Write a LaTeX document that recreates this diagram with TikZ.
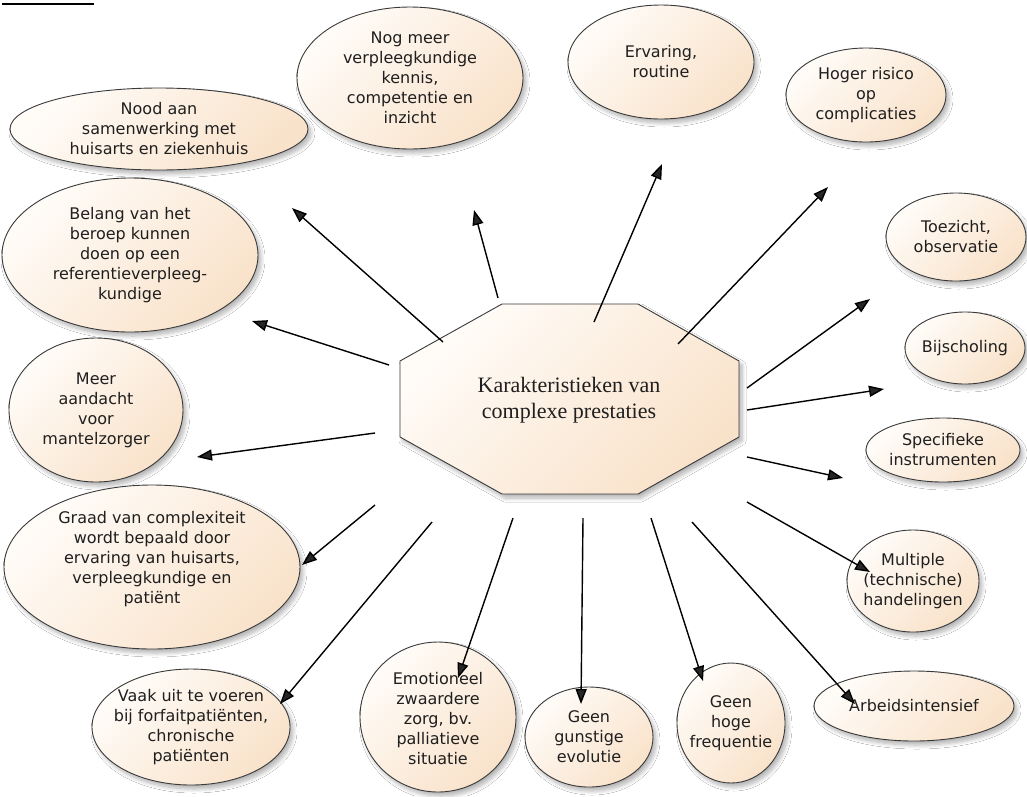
\documentclass[tikz,border=0pt]{standalone}
\usepackage{fontspec}
\setmainfont{DejaVu Sans}
\newfontfamily\centrefont{Liberation Serif}
\usetikzlibrary{arrows.meta,shapes.geometric,shadows.blur}
\definecolor{bubbleLight}{HTML}{FFFCF8}
\definecolor{bubbleDark}{HTML}{F9E2CA}
\definecolor{rim}{HTML}{3A3A3A}
\begin{document}
\begin{tikzpicture}[x=1pt,y=-1pt,
  softshadow/.style={blur shadow={shadow xshift=3pt, shadow yshift=-4pt, shadow blur radius=4pt, shadow blur steps=8, shadow opacity=30}},
  bubble/.style={ellipse, draw=rim, line width=0.9pt, top color=bubbleLight, bottom color=bubbleDark, shading angle=45, inner sep=0pt, softshadow},
  txt/.style={font=\fontsize{16}{20}\selectfont, align=center, inner sep=0pt, text=black!88},
  link/.style={line width=1.4pt, -{Triangle[length=15pt,width=11pt]}},
]
\useasboundingbox (0,0) rectangle (1027,796);
\fill[white] (0,0) rectangle (1027,796);

% caption underline at the top edge
\draw[line width=1.6pt] (2,4) -- (94,4);

% central octagon
\path[draw=rim, line width=0.9pt, top color=bubbleLight, bottom color=bubbleDark, shading angle=45, softshadow]
  (502,304) -- (638,304) -- (739,361) -- (739,437) -- (638,494) -- (502,494) -- (400,437) -- (400,361) -- cycle;
\node[font=\centrefont\fontsize{22}{26}\selectfont, align=center, inner sep=0pt, text=black!88] (core) at (569,400)
  {Karakteristieken van\\complexe prestaties};

% surrounding characteristics
\node[bubble, minimum width=298pt, minimum height=82pt] (nood) at (159,129) {};
\node[txt] (noodT) at (nood) {Nood aan\\samenwerking met\\huisarts en ziekenhuis};

\node[bubble, minimum width=256pt, minimum height=154pt] (belang) at (130,255) {};
\node[txt] (belangT) at (belang) {Belang van het\\beroep kunnen\\doen op een\\referentieverpleeg-\\kundige};

\node[bubble, minimum width=174pt, minimum height=144pt] (meer) at (96,410) {};
\node[txt] (meerT) at (meer) {Meer\\aandacht\\voor\\mantelzorger};

\node[bubble, minimum width=296pt, minimum height=164pt] (graad) at (152,567) {};
\node[txt, yshift=8pt] (graadT) at (graad) {Graad van complexiteit\\wordt bepaald door\\ervaring van huisarts,\\verpleegkundige en\\patiënt};

\node[bubble, minimum width=198pt, minimum height=116pt] (vaak) at (191,727) {};
\node[txt] (vaakT) at (vaak) {Vaak uit te voeren\\bij forfaitpatiënten,\\chronische\\patiënten};

\node[bubble, minimum width=156pt, minimum height=150pt] (emo) at (438,717) {};
\node[txt, yshift=-2pt] (emoT) at (emo) {Emotioneel\\zwaardere\\zorg, bv.\\palliatieve\\situatie};

\node[bubble, minimum width=128pt, minimum height=100pt] (gunstig) at (589,737) {};
\node[txt] (gunstigT) at (gunstig) {Geen\\gunstige\\evolutie};

\node[bubble, minimum width=108pt, minimum height=120pt] (hoge) at (731,723) {};
\node[txt] (hogeT) at (hoge) {Geen\\hoge\\frequentie};

\node[bubble, minimum width=200pt, minimum height=70pt] (arbeid) at (914,706) {};
\node[txt] (arbeidT) at (arbeid) {Arbeidsintensief};

\node[bubble, minimum width=132pt, minimum height=102pt] (multiple) at (913,581) {};
\node[txt] (multipleT) at (multiple) {Multiple\\(technische)\\handelingen};

\node[bubble, minimum width=154pt, minimum height=64pt] (specifiek) at (943,450) {};
\node[txt] (specifiekT) at (specifiek) {Specifieke\\instrumenten};

\node[bubble, minimum width=120pt, minimum height=72pt] (bijscholing) at (965,348) {};
\node[txt] (bijscholingT) at (bijscholing) {Bijscholing};

\node[bubble, minimum width=140pt, minimum height=88pt] (toezicht) at (956,237) {};
\node[txt] (toezichtT) at (toezicht) {Toezicht,\\observatie};

\node[bubble, minimum width=160pt, minimum height=94pt] (hoger) at (866,95) {};
\node[txt] (hogerT) at (hoger) {Hoger risico\\op\\complicaties};

\node[bubble, minimum width=186pt, minimum height=114pt] (ervaring) at (661,62) {};
\node[txt] (ervaringT) at (ervaring) {Ervaring,\\routine};

\node[bubble, minimum width=226pt, minimum height=142pt] (nogmeer) at (410,78) {};
\node[txt] (nogmeerT) at (nogmeer) {Nog meer\\verpleegkundige\\kennis,\\competentie en\\inzicht};

% arrow ends: start inside the octagon, tip near each characteristic
\coordinate (sA) at (443,342);  \coordinate (eA) at (292,208);
\coordinate (sB) at (498,298);  \coordinate (eB) at (474,210);
\coordinate (sC) at (594,322);  \coordinate (eC) at (662,164);
\coordinate (sD) at (678,344);  \coordinate (eD) at (828,187);
\coordinate (sE) at (747,388);  \coordinate (eE) at (870,299);
\coordinate (sF) at (747,410);  \coordinate (eF) at (884,389);
\coordinate (sG) at (747,457);  \coordinate (eG) at (843,478);
\coordinate (sH) at (747,502);  \coordinate (eH) at (870,572);
\coordinate (sI) at (692,522);  \coordinate (eI) at (855,704);
\coordinate (sJ) at (651,518);  \coordinate (eJ) at (703,681);
\coordinate (sK) at (583,518);  \coordinate (eK) at (581,704);
\coordinate (sL) at (513,518);  \coordinate (eL) at (458,678);
\coordinate (sM) at (432,522);  \coordinate (eM) at (280,704);
\coordinate (sN) at (375,505);  \coordinate (eN) at (302,565);
\coordinate (sO) at (375,433);  \coordinate (eO) at (197,457);
\coordinate (sP) at (389,365);  \coordinate (eP) at (252,321);

\foreach \k in {A,B,C,D,E,F,G,H,I,J,K,L,M,N,O,P}
  \draw[link] (s\k) -- (e\k);
\end{tikzpicture}
\end{document}
